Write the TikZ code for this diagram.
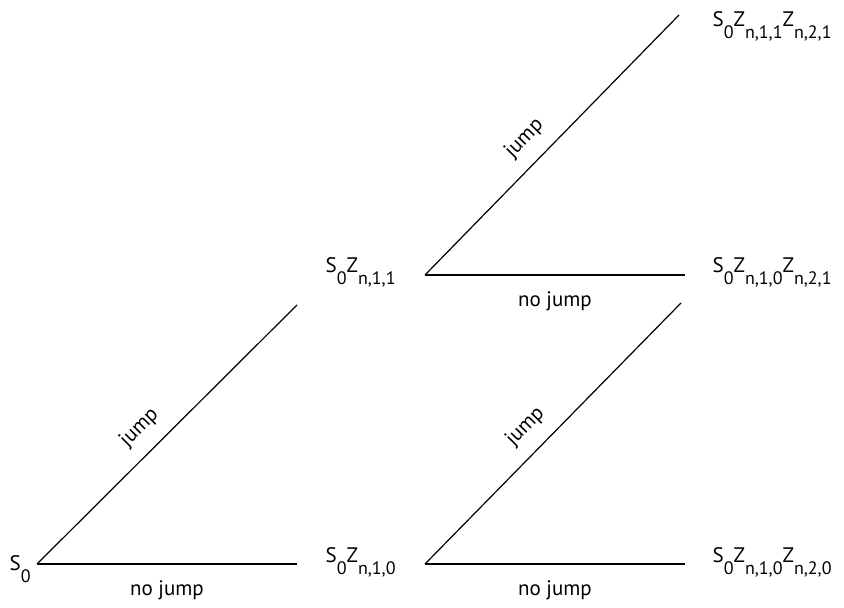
\documentclass[tikz,border=0pt]{standalone}
\usepackage{fontspec}
\setmainfont{PT Sans}
\newcommand\lowsub[1]{\raisebox{-0.55em}{\fontsize{18}{21}\selectfont #1}}
\begin{document}
\begin{tikzpicture}[x=1pt, y=1pt, line width=1.2pt,
  every node/.style={font=\fontsize{21}{25}\selectfont, inner sep=0pt},
  state/.style={anchor=base west},
  uplabel/.style={sloped, above=14pt, pos=0.46},
  downlabel/.style={below=16pt, midway}]
\useasboundingbox (0,0) rectangle (844,608);
\node[state] (S) at (9,37) {S\lowsub{0}};
\node[state] (SZ0) at (325,45) {S\lowsub{0}Z\lowsub{n,1,0}};
\node[state] (SZ1) at (325,335) {S\lowsub{0}Z\lowsub{n,1,1}};
\node[state] (SZ11) at (712,581) {S\lowsub{0}Z\lowsub{n,1,1}Z\lowsub{n,2,1}};
\node[state] (SZ01) at (712,335) {S\lowsub{0}Z\lowsub{n,1,0}Z\lowsub{n,2,1}};
\node[state] (SZ00) at (712,45) {S\lowsub{0}Z\lowsub{n,1,0}Z\lowsub{n,2,0}};
\coordinate (a) at (37,44);
\coordinate (a1) at (297,44);
\coordinate (a2) at (297,303);
\coordinate (b) at (425,44);
\coordinate (b1) at (685,44);
\coordinate (b2) at (681,305);
\coordinate (c) at (425,333);
\coordinate (c1) at (685,333);
\coordinate (c2) at (679,593);
\draw (a) -- node[uplabel] {jump} (a2);
\draw (a) -- node[downlabel] {no jump} (a1);
\draw (b) -- node[uplabel] {jump} (b2);
\draw (b) -- node[downlabel] {no jump} (b1);
\draw (c) -- node[uplabel] {jump} (c2);
\draw (c) -- node[downlabel] {no jump} (c1);
\end{tikzpicture}
\end{document}
